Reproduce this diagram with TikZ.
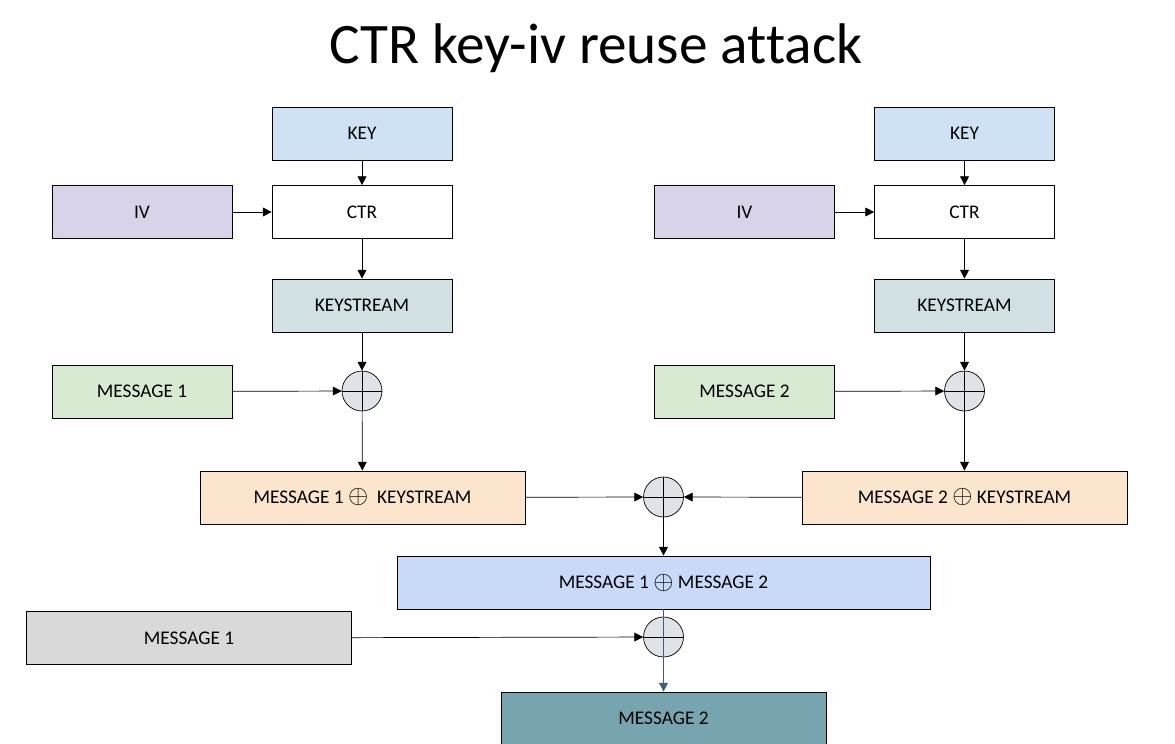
\documentclass[tikz,border=0pt]{standalone}
\usepackage{fontspec}
\setmainfont{Carlito}[Ligatures=NoCommon]
\usepackage{graphicx}
\usetikzlibrary{arrows.meta}
\definecolor{keyblue}{HTML}{CFE2F3}
\definecolor{ivpurple}{HTML}{D9D2E9}
\definecolor{ksgray}{HTML}{D0E0E3}
\definecolor{msggreen}{HTML}{D9EAD3}
\definecolor{mksorange}{HTML}{FCE5CD}
\definecolor{mmblue}{HTML}{C9DAF8}
\definecolor{msggray}{HTML}{D9D9D9}
\definecolor{msgteal}{HTML}{76A5AF}
\definecolor{xorfill}{HTML}{DFE2E6}
\definecolor{lastline}{HTML}{3D5F75}
\newcommand{\xo}{\raisebox{-0.5pt}{\scalebox{1.35}{$\oplus$}}}
\begin{document}
\begin{tikzpicture}[x=0.02cm,y=-0.02cm,
  box/.style={draw,thin,minimum width=3.6cm,minimum height=1.06cm,inner sep=0pt,font=\fontsize{11}{13}\selectfont},
  widebox/.style={box,minimum width=6.5cm},
  xorop/.style={draw,circle,fill=xorfill,minimum size=0.8cm,inner sep=0pt,
    path picture={\draw (path picture bounding box.north) -- (path picture bounding box.south)
      (path picture bounding box.west) -- (path picture bounding box.east);}},
  conn/.style={-{Triangle[width=5pt,length=5pt]},thin}]
\useasboundingbox (0,0) rectangle (1175,743);

%%%%%TITLE%%%%%%%%%
\node (title) at (596,48) {\fontsize{32.6}{36}\selectfont CTR key-iv reuse attack};

%%%%%LEFT CHAIN%%%%%%%%%
\node[box,fill=keyblue] (keyL) at (362,133.5) {KEY};
\node[box] (ctrL) at (362,212) {CTR};
\node[box,fill=ivpurple] (ivL) at (142,212) {IV};
\node[box,fill=ksgray] (ksL) at (362,305.5) {KEYSTREAM};
\node[box,fill=msggreen] (msgL) at (142,391.5) {MESSAGE 1};
\node[xorop] (xorL) at (362,391) {};
\node[widebox,fill=mksorange] (mksL) at (362.5,497.5) {MESSAGE 1 \xo\ \ KEYSTREAM};

%%%%%RIGHT CHAIN%%%%%%%%
\node[box,fill=keyblue] (keyR) at (964.5,133.5) {KEY};
\node[box] (ctrR) at (964.5,212) {CTR};
\node[box,fill=ivpurple] (ivR) at (744.5,212) {IV};
\node[box,fill=ksgray] (ksR) at (964.5,305.5) {KEYSTREAM};
\node[box,fill=msggreen] (msgR) at (744.5,391.5) {MESSAGE 2};
\node[xorop] (xorR) at (964.5,391) {};
\node[widebox,fill=mksorange] (mksR) at (964.5,497.5) {MESSAGE 2 \xo\ KEYSTREAM};

%%%%%COMBINE%%%%%%%%%%
\node[xorop] (xorM) at (663.5,497) {};
\node[box,fill=mmblue,minimum width=10.66cm] (mm) at (663.5,582.5) {MESSAGE 1 \xo\ MESSAGE 2};
\node[widebox,fill=msggray] (msgG) at (189,638) {MESSAGE 1};
\node[xorop] (xorB) at (663.5,637) {};
\node[widebox,fill=msgteal] (msgT) at (663.5,718.5) {MESSAGE 2};

%%%%%ARROWS%%%%%%%%%%%
\foreach \s in {L,R}{
  \draw[conn] (key\s) -- (ctr\s);
  \draw[conn] (iv\s) -- (ctr\s);
  \draw[conn] (ctr\s) -- (ks\s);
  \draw[conn] (ks\s) -- (xor\s);
  \draw[conn] (msg\s) -- (xor\s);
  \draw[conn] (xor\s) -- (mks\s);
}
\draw[conn] (mksL) -- (xorM);
\draw[conn] (mksR) -- (xorM);
\draw[conn] (xorM) -- (mm);
\draw[conn] (msgG) -- (xorB);
\draw[conn,lastline] (mm.south) -- (msgT.north);

\end{tikzpicture}
\end{document}
